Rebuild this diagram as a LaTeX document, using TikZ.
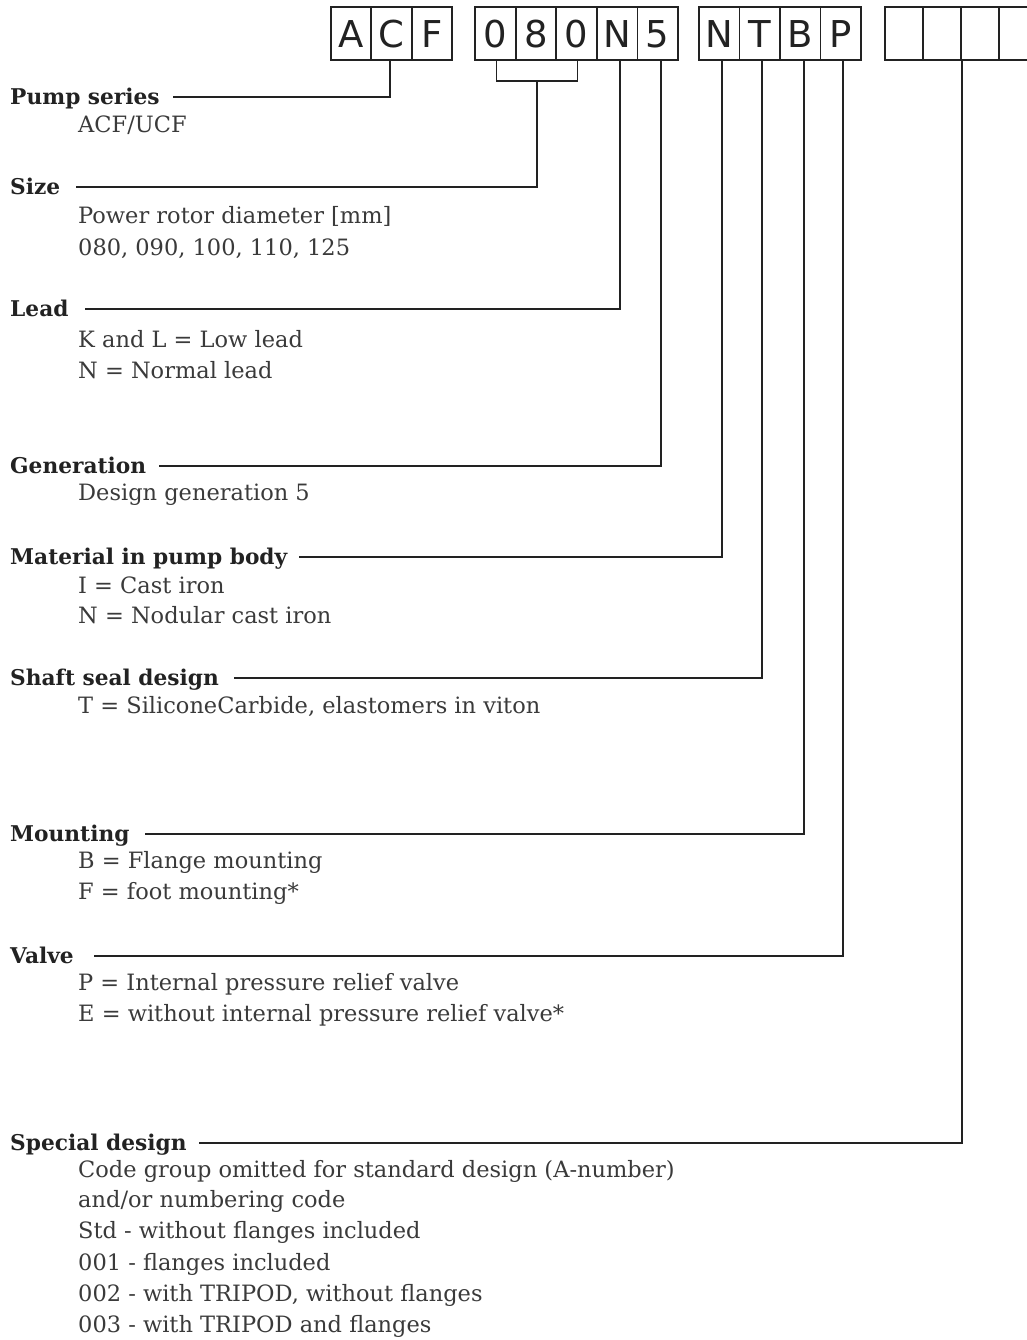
\documentclass[tikz,border=0pt]{standalone}
\usepackage{fontspec}
\setmainfont{DejaVu Serif}
\newfontfamily\boxfont{DejaVu Sans}
\usetikzlibrary{calc}
\definecolor{ink}{HTML}{222222}
\definecolor{bodyc}{HTML}{3A3A3A}
\tikzset{
  cell/.style={draw=ink, line width=1.8pt, minimum height=53pt, inner sep=0pt,
    text height=28pt, text depth=0pt, font=\boxfont\fontsize{37}{40}\selectfont, text=ink},
  lbl/.style={anchor=base west, inner sep=0pt, font=\bfseries\fontsize{21.7}{25}\selectfont, text=ink},
  body/.style={anchor=base west, inner sep=0pt, font=\fontsize{22.5}{26}\selectfont, text=bodyc},
  conn/.style={draw=ink, line width=1.6pt},
}
\begin{document}
\begin{tikzpicture}[x=1pt,y=-1pt]
\useasboundingbox (0,0) rectangle (1027,1340);
% ---- code boxes ----
\node[cell, minimum width=40.33pt] (g1a) at (351.17,33.5) {A};
\node[cell, minimum width=40.33pt] (g1b) at (391.5,33.5) {C};
\node[cell, minimum width=40.33pt] (g1c) at (431.83,33.5) {F};
\node[cell, minimum width=40.6pt] (g2a) at (495.3,33.5) {0};
\node[cell, minimum width=40.6pt] (g2b) at (535.9,33.5) {8};
\node[cell, minimum width=40.6pt] (g2c) at (576.5,33.5) {0};
\node[cell, minimum width=40.6pt] (g2d) at (617.1,33.5) {N};
\node[cell, minimum width=40.6pt] (g2e) at (657.7,33.5) {5};
\node[cell, minimum width=40.5pt] (g3a) at (719.25,33.5) {N};
\node[cell, minimum width=40.5pt] (g3b) at (759.75,33.5) {T};
\node[cell, minimum width=40.5pt] (g3c) at (800.25,33.5) {B};
\node[cell, minimum width=40.5pt] (g3d) at (840.75,33.5) {P};
\node[cell, minimum width=38.1pt] (g4a) at (904.05,33.5) {};
\node[cell, minimum width=38.1pt] (g4b) at (942.15,33.5) {};
\node[cell, minimum width=38.1pt] (g4c) at (980.25,33.5) {};
\node[cell, minimum width=38.1pt] (g4d) at (1018.35,33.5) {};
% ---- labels ----
\node[lbl] (pump) at (10,104.5) {Pump series};
\node[lbl] (size) at (10,194.5) {Size};
\node[lbl] (lead) at (10,316.5) {Lead};
\node[lbl] (gen)  at (10,473.5) {Generation};
\node[lbl] (mat)  at (10,564.5) {Material in pump body};
\node[lbl] (shaft) at (10,685.5) {Shaft seal design};
\node[lbl] (mount) at (10,841.5) {Mounting};
\node[lbl] (valve) at (10,963.5) {Valve};
\node[lbl] (spec) at (10,1150.5) {Special design};
% ---- body texts ----
\node[body] (t1)  at (78,133) {ACF/UCF};
\node[body] (t2a) at (78,224) {Power rotor diameter [mm]};
\node[body] (t2b) at (78,255.5) {080, 090, 100, 110, 125};
\node[body] (t3a) at (78,347) {K and L = Low lead};
\node[body] (t3b) at (78,378) {N = Normal lead};
\node[body] (t4)  at (78,500.5) {Design generation 5};
\node[body] (t5a) at (78,593) {I = Cast iron};
\node[body] (t5b) at (78,623) {N = Nodular cast iron};
\node[body] (t6)  at (78,713) {T = SiliconeCarbide, elastomers in viton};
\node[body] (t7a) at (78,868) {B = Flange mounting};
\node[body] (t7b) at (78,899) {F = foot mounting*};
\node[body] (t8a) at (78,990) {P = Internal pressure relief valve};
\node[body] (t8b) at (78,1021.5) {E = without internal pressure relief valve*};
\node[body] (t9a) at (78,1177) {Code group omitted for standard design (A-number)};
\node[body] (t9b) at (78,1207.5) {and/or numbering code};
\node[body] (t9c) at (78,1238.5) {Std - without flanges included};
\node[body] (t9d) at (78,1270) {001 - flanges included};
\node[body] (t9e) at (78,1301) {002 - with TRIPOD, without flanges};
\node[body] (t9f) at (78,1332) {003 - with TRIPOD and flanges};
% ---- connectors ----
\draw[conn] ($(g1b.south)+(-1.5,0)$) |- ($(pump.base east)+(13,-7.5)$);
\draw[conn] ($(g2a.south)+(1,0)$) -- ++(0,20) -| ($(g2c.south)+(1,0)$);
\coordinate (brk) at ($(g2b.south)+(1,20)$);
\draw[conn] (brk) |- ($(size.base east)+(16,-7.5)$);
\draw[conn] ($(g2d.south)+(3,0)$) |- ($(lead.base east)+(16,-7.5)$);
\draw[conn] ($(g2e.south)+(3,0)$) |- ($(gen.base east)+(13,-7.5)$);
\draw[conn] ($(g3a.south)+(2.5,0)$) |- ($(mat.base east)+(12,-7.5)$);
\draw[conn] ($(g3b.south)+(2,0)$) |- ($(shaft.base east)+(15,-7.5)$);
\draw[conn] ($(g3c.south)+(3.5,0)$) |- ($(mount.base east)+(15,-7.5)$);
\draw[conn] ($(g3d.south)+(2,0)$) |- ($(valve.base east)+(20,-7.5)$);
\draw[conn] (g4b.south east) |- ($(spec.base east)+(12,-7.5)$);
\end{tikzpicture}
\end{document}
